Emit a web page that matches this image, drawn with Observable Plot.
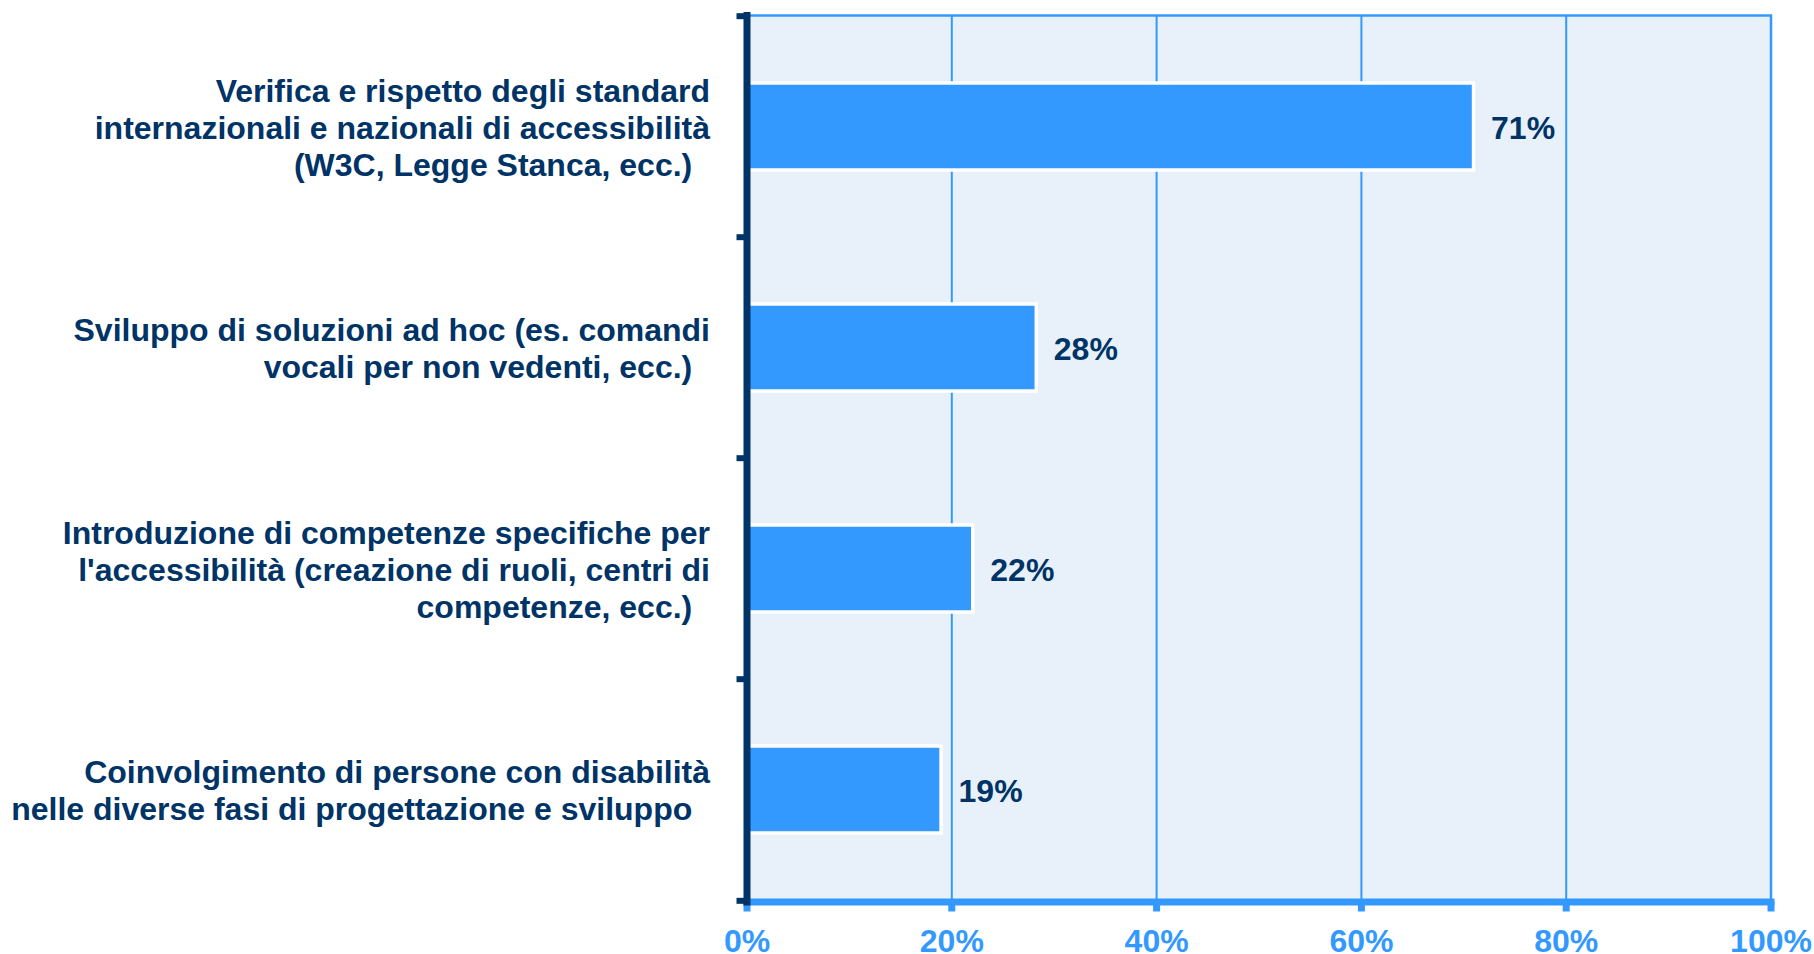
<!DOCTYPE html>
<html>
<head>
<meta charset="utf-8">
<script src="https://cdn.jsdelivr.net/npm/d3@7"></script>
<script src="https://cdn.jsdelivr.net/npm/@observablehq/plot@0.6"></script>
<style>
  html, body { margin: 0; padding: 0; background: #ffffff; }
  #chart svg { display: block; }
</style>
</head>
<body>
<div id="chart"></div>
<script>
const categories = [
  "Verifica e rispetto degli standard\ninternazionali e nazionali di accessibilità\n(W3C, Legge Stanca, ecc.)\u00a0\u00a0",
  "Sviluppo di soluzioni ad hoc (es. comandi\nvocali per non vedenti, ecc.)\u00a0\u00a0",
  "Introduzione di competenze specifiche per\nl'accessibilità (creazione di ruoli, centri di\ncompetenze, ecc.)\u00a0\u00a0",
  "Coinvolgimento di persone con disabilità\nnelle diverse fasi di progettazione e sviluppo\u00a0\u00a0"
];
const values = [0.71, 0.283, 0.221, 0.19];
const valueLabels = ["71%", "28%", "22%", "19%"];
const xTicks = [0, 0.2, 0.4, 0.6, 0.8, 1];
const gridTicks = [0.2, 0.4, 0.6, 0.8];

const data = categories.map((c, i) => ({category: c, value: values[i], label: valueLabels[i]}));

const W = 1814, H = 954;
const mTop = 15, mBottom = 52.5, mLeft = 746.5, mRight = 43.5;
const step = (H - mTop - mBottom) / categories.length;

const navy = "#003366";
const blue = "#3399ff";
const bg = "#e8f1f9";

const chart = Plot.plot({
  width: W,
  height: H,
  marginTop: mTop,
  marginBottom: mBottom,
  marginLeft: mLeft,
  marginRight: mRight,
  style: {fontFamily: "'Liberation Sans', Arial, sans-serif", background: "#ffffff", overflow: "visible"},
  x: {domain: [0, 1], axis: null},
  y: {domain: categories, paddingInner: 0.605, paddingOuter: 0.3025, axis: null},
  marks: [
    Plot.frame({fill: bg, stroke: blue, strokeWidth: 2.5}),
    Plot.gridX(gridTicks, {stroke: blue, strokeOpacity: 1, strokeWidth: 2}),
    Plot.barX(data, {x: "value", y: "category", fill: blue, stroke: "#ffffff", strokeWidth: 3.5}),
    Plot.text(data, {
      x: "value", y: "category",
      text: "label",
      textAnchor: "start", dx: 17, dy: 2,
      fill: navy, fontSize: 32, fontWeight: "bold"
    }),
    Plot.frame({anchor: "bottom", stroke: blue, strokeWidth: 7}),
    Plot.axisX({
      ticks: xTicks, tickSize: 10, tickPadding: 17, label: null,
      tickFormat: d => Math.round(d * 100) + "%",
      stroke: blue, strokeWidth: 7,
      fill: blue, fontSize: 32, fontWeight: "bold"
    }),
    Plot.frame({anchor: "left", stroke: navy, strokeWidth: 7}),
    Plot.axisY({
      ticks: categories, tickSize: 10, dy: -step / 2, label: null,
      tickFormat: () => "", stroke: navy, strokeWidth: 6
    }),
    Plot.axisY({
      ticks: categories.slice(-1), tickSize: 10, dy: step / 2, label: null,
      tickFormat: () => "", stroke: navy, strokeWidth: 6
    }),
    Plot.axisY({
      ticks: categories, tickSize: 0, tickPadding: 37, label: null,
      fill: navy, fontSize: 32, fontWeight: "bold", lineHeight: 1.16
    })
  ]
});

document.getElementById("chart").appendChild(chart);
</script>
</body>
</html>
